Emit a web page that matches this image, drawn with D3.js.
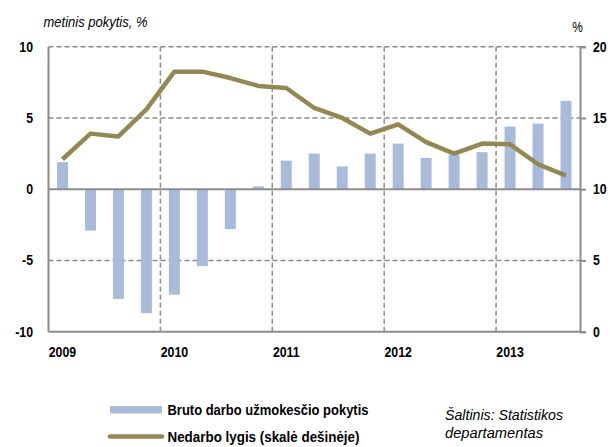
<!DOCTYPE html>
<html>
<head>
<meta charset="utf-8">
<script src="https://cdn.jsdelivr.net/npm/d3@7"></script>
<style>
  body { margin: 0; background: #fff; }
  svg text { font-family: "Liberation Sans", Arial, sans-serif; }
</style>
</head>
<body>
<svg id="chart" width="612" height="447"></svg>
<script>
// quarterly data, 2009 Q1 .. 2013 Q3
const quarters = d3.range(19);
const years = ['2009', '2010', '2011', '2012', '2013'];
const wageChange = [1.9, -2.9, -7.7, -8.7, -7.4, -5.4, -2.8, 0.2, 2.0, 2.5, 1.6, 2.5, 3.2, 2.2, 2.4, 2.6, 4.4, 4.6, 6.2];
const unemployment = [12.1, 13.9, 13.7, 15.6, 18.25, 18.25, 17.8, 17.25, 17.1, 15.7, 15.0, 13.9, 14.55, 13.3, 12.5, 13.2, 13.15, 11.75, 10.95];
const leftTicks = [-10, -5, 0, 5, 10];
const rightTicks = [0, 5, 10, 15, 20];

const barColor = '#a9bbdb';
const lineColor = '#928852';
const axisColor = '#8c8c8c';

// squeeze text horizontally (the original uses a narrow font)
const squeeze = (sel, factor) => {
  sel.each(function () {
    const w = this.getComputedTextLength();
    d3.select(this).attr('textLength', w * factor).attr('lengthAdjust', 'spacingAndGlyphs');
  });
};
// force a text to a given width
const fitWidth = (sel, w) => sel.attr('textLength', w).attr('lengthAdjust', 'spacingAndGlyphs');

const svg = d3.select('#chart');
const margin = { left: 48.5, right: 32, top: 46.7, bottom: 115.3 };
const width = 612 - margin.left - margin.right;
const height = 447 - margin.top - margin.bottom;

const g = svg.append('g').attr('transform', `translate(${margin.left},${margin.top})`);

// x: continuous quarter index, each quarter one slot
const x = d3.scaleLinear().domain([0, quarters.length]).range([0, width]);
const yLeft = d3.scaleLinear().domain([-10, 10]).range([height, 0]);
const yRight = d3.scaleLinear().domain([0, 20]).range([height, 0]);
const slot = x(1) - x(0);
const barW = 11;

// dashed gridlines (horizontal)
g.selectAll('.hgrid')
  .data([-5, 5, 10])
  .join('line')
  .attr('x1', 0)
  .attr('x2', width)
  .attr('y1', (d) => yLeft(d))
  .attr('y2', (d) => yLeft(d))
  .attr('stroke', axisColor)
  .attr('stroke-width', 1.5)
  .attr('stroke-dasharray', '5,3');

// dashed gridlines at year boundaries
g.selectAll('.vgrid')
  .data([4, 8, 12, 16])
  .join('line')
  .attr('x1', (d) => x(d))
  .attr('x2', (d) => x(d))
  .attr('y1', 0)
  .attr('y2', height)
  .attr('stroke', axisColor)
  .attr('stroke-width', 1.5)
  .attr('stroke-dasharray', '5,3');

// bars
g.selectAll('.bar')
  .data(wageChange)
  .join('rect')
  .attr('x', (d, i) => x(quarters[i]) + slot / 2 - barW / 2)
  .attr('width', barW)
  .attr('y', (d) => yLeft(Math.max(0, d)))
  .attr('height', (d) => Math.abs(yLeft(d) - yLeft(0)))
  .attr('fill', barColor);

// zero line
g.append('line')
  .attr('x1', 0)
  .attr('x2', width)
  .attr('y1', yLeft(0))
  .attr('y2', yLeft(0))
  .attr('stroke', axisColor)
  .attr('stroke-width', 2);

// left axis line (no ticks)
g.append('line')
  .attr('x1', 0).attr('x2', 0)
  .attr('y1', 0).attr('y2', height)
  .attr('stroke', axisColor)
  .attr('stroke-width', 2);

// bottom axis line
g.append('line')
  .attr('x1', 0).attr('x2', width)
  .attr('y1', height).attr('y2', height)
  .attr('stroke', axisColor)
  .attr('stroke-width', 2);

// right axis with outward ticks
const rightAxis = g.append('g')
  .attr('transform', `translate(${width},0)`)
  .call(d3.axisRight(yRight).tickValues(rightTicks).tickSize(6).tickPadding(7).tickFormat(d3.format('d')));
rightAxis.select('.domain').attr('stroke', axisColor).attr('stroke-width', 2);
rightAxis.selectAll('.tick line').attr('stroke', axisColor).attr('stroke-width', 2);
rightAxis.selectAll('.tick text')
  .style('font-size', '14px')
  .style('font-weight', 'bold')
  .attr('fill', '#000')
  .call(squeeze, 0.88);

// left tick labels
g.selectAll('.ltick')
  .data(leftTicks)
  .join('text')
  .attr('x', -15.5)
  .attr('y', (d) => yLeft(d))
  .attr('dy', '0.35em')
  .attr('text-anchor', 'end')
  .style('font-size', '14px')
  .style('font-weight', 'bold')
  .text((d) => d)
  .call(squeeze, 0.88);

// year labels, under the first quarter of each year
g.selectAll('.year')
  .data(years)
  .join('text')
  .attr('x', (d, i) => x(i * 4) + slot / 2)
  .attr('y', height + 25)
  .attr('text-anchor', 'middle')
  .style('font-size', '14px')
  .style('font-weight', 'bold')
  .text((d) => d)
  .call(squeeze, 0.88);

// unemployment line on right scale
const line = d3.line()
  .x((d, i) => x(quarters[i]) + slot / 2)
  .y((d) => yRight(d));

g.append('path')
  .datum(unemployment)
  .attr('d', line)
  .attr('fill', 'none')
  .attr('stroke', lineColor)
  .attr('stroke-width', 4.5)
  .attr('stroke-linejoin', 'round');

// axis titles
svg.append('text')
  .attr('x', 43.5)
  .attr('y', 27)
  .style('font-size', '14px')
  .style('font-style', 'italic')
  .text('metinis pokytis, %')
  .call(fitWidth, 104);

svg.append('text')
  .attr('x', 577.5)
  .attr('y', 32)
  .attr('text-anchor', 'middle')
  .style('font-size', '14px')
  .text('%')
  .call(squeeze, 0.85);

// legend
const legend = svg.append('g');
legend.append('rect')
  .attr('x', 110).attr('y', 406)
  .attr('width', 52).attr('height', 7.5)
  .attr('fill', barColor);
legend.append('text')
  .attr('x', 167.5).attr('y', 415)
  .style('font-size', '15px')
  .style('font-weight', 'bold')
  .text('Bruto darbo užmokesčio pokytis')
  .call(fitWidth, 201);
legend.append('line')
  .attr('x1', 110).attr('x2', 162)
  .attr('y1', 436.5).attr('y2', 436.5)
  .attr('stroke', lineColor)
  .attr('stroke-width', 4.5)
  .attr('stroke-linecap', 'round');
legend.append('text')
  .attr('x', 167.5).attr('y', 441.5)
  .style('font-size', '15px')
  .style('font-weight', 'bold')
  .text('Nedarbo lygis (skalė dešinėje)')
  .call(fitWidth, 192);

// source note
const source = svg.append('g')
  .style('font-family', '"Open Sans", "Noto Sans", sans-serif')
  .style('font-size', '14px')
  .style('font-style', 'italic');
source.append('text')
  .attr('x', 445).attr('y', 420)
  .text('Šaltinis: Statistikos')
  .call(fitWidth, 118);
source.append('text')
  .attr('x', 445).attr('y', 438)
  .text('departamentas')
  .call(fitWidth, 98);
</script>
</body>
</html>
